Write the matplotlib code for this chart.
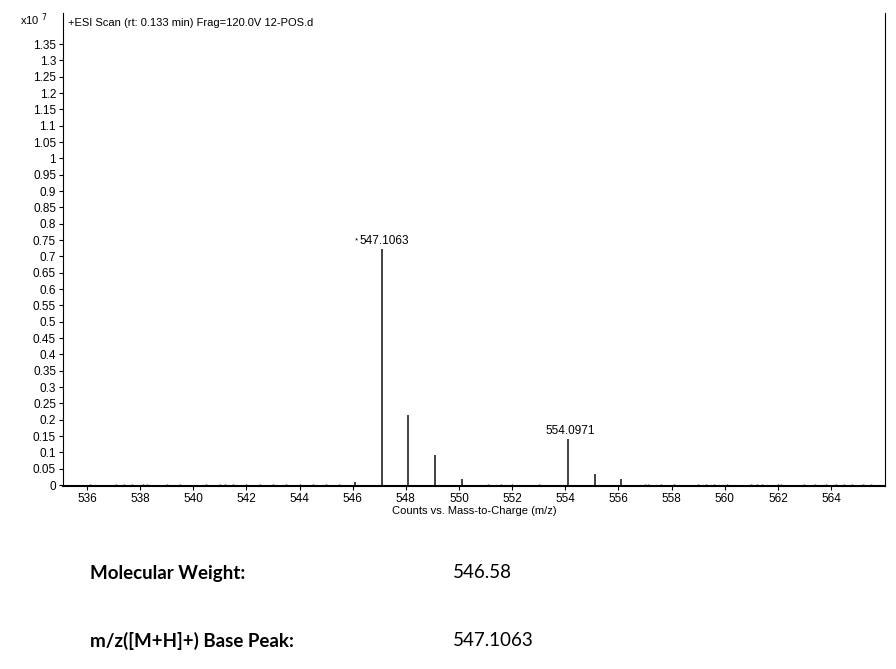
import numpy as np
import matplotlib.pyplot as plt

# peak list, intensities in units of 1e7 counts
mz_main = [546.1, 547.1063, 548.1, 549.1, 550.1, 554.0971, 555.1, 556.1]
int_main = [0.010, 0.722, 0.214, 0.092, 0.018, 0.141, 0.034, 0.018]

mz_small = [536.1, 537.1, 537.4, 537.7, 538.1, 538.25, 539.0, 539.5, 540.5, 541.0,
            541.2, 541.5, 542.0, 542.5, 543.0, 543.5, 544.0, 544.5, 545.0, 545.5,
            551.1, 551.6, 552.0, 553.0, 557.0, 557.1, 557.6, 558.1, 559.0, 559.3,
            559.6, 560.1, 561.0, 561.2, 561.4, 562.0, 562.1, 563.0, 563.4, 563.8,
            564.2, 564.5, 564.8, 565.2, 565.5]
int_small = [0.004, 0.002, 0.002, 0.002, 0.004, 0.003, 0.002, 0.002, 0.002, 0.002,
             0.002, 0.002, 0.002, 0.002, 0.002, 0.002, 0.002, 0.002, 0.002, 0.002,
             0.002, 0.003, 0.002, 0.002, 0.004, 0.004, 0.002, 0.002, 0.002, 0.002,
             0.002, 0.003, 0.002, 0.003, 0.002, 0.004, 0.003, 0.002, 0.002, 0.002,
             0.002, 0.002, 0.002, 0.002, 0.002]

labels = [(547.1063, 0.722, "547.1063"), (554.0971, 0.141, "554.0971")]

yticks = np.round(np.arange(0, 1.3501, 0.05), 2)
xticks = np.arange(536, 565, 2)

plt.rcParams['font.family'] = ['Liberation Sans', 'DejaVu Sans']

fig = plt.figure(figsize=(8.96, 6.69), dpi=100)
ax = fig.add_axes([0.0703, 0.2735, 0.9174, 0.7071])

ax.vlines(mz_main, 0, int_main, color='#222222', lw=1.2)
ax.vlines(mz_small, 0, int_small, color='#222222', lw=1.0)

for x, y, s in labels:
    ax.text(x + 0.1, y + 0.006, s, ha='center', va='bottom', fontsize=8.5)
ax.text(547.1063 - 0.98, 0.722 + 0.016, "*", ha='center', va='bottom', fontsize=6)

ax.set_xlim(535.1, 566.03)
ax.set_ylim(-0.003, 1.445)
ax.set_xticks(xticks)
ax.set_yticks(yticks)
ax.set_yticklabels(["%g" % v for v in yticks])
ax.tick_params(axis='both', labelsize=8.5, length=3, width=0.8, pad=2)
ax.spines['top'].set_visible(False)
ax.spines['bottom'].set_linewidth(1.5)
ax.spines['left'].set_linewidth(0.8)
ax.spines['right'].set_linewidth(0.8)
ax.set_xlabel("Counts vs. Mass-to-Charge (m/z)", fontsize=8, labelpad=1)

ax.text(0.006, 0.99, "+ESI Scan (rt: 0.133 min) Frag=120.0V 12-POS.d",
        transform=ax.transAxes, ha='left', va='top', fontsize=8)
fig.text(20 / 896, 1 - 20 / 669, r"x10 $^{7}$", ha='left', va='center', fontsize=8)

fig.text(90 / 896, 1 - 573 / 669, "Molecular Weight:", fontsize=13.5,
         fontweight='bold', family='Lato', va='center')
fig.text(453 / 896, 1 - 573 / 669, "546.58", fontsize=13.5, family='Lato', va='center')
fig.text(90 / 896, 1 - 641 / 669, "m/z([M+H]+) Base Peak:", fontsize=13.5,
         fontweight='bold', family='Lato', va='center')
fig.text(453 / 896, 1 - 641 / 669, "547.1063", fontsize=13.5, family='Lato', va='center')

fig.savefig("out.png", dpi=100)
